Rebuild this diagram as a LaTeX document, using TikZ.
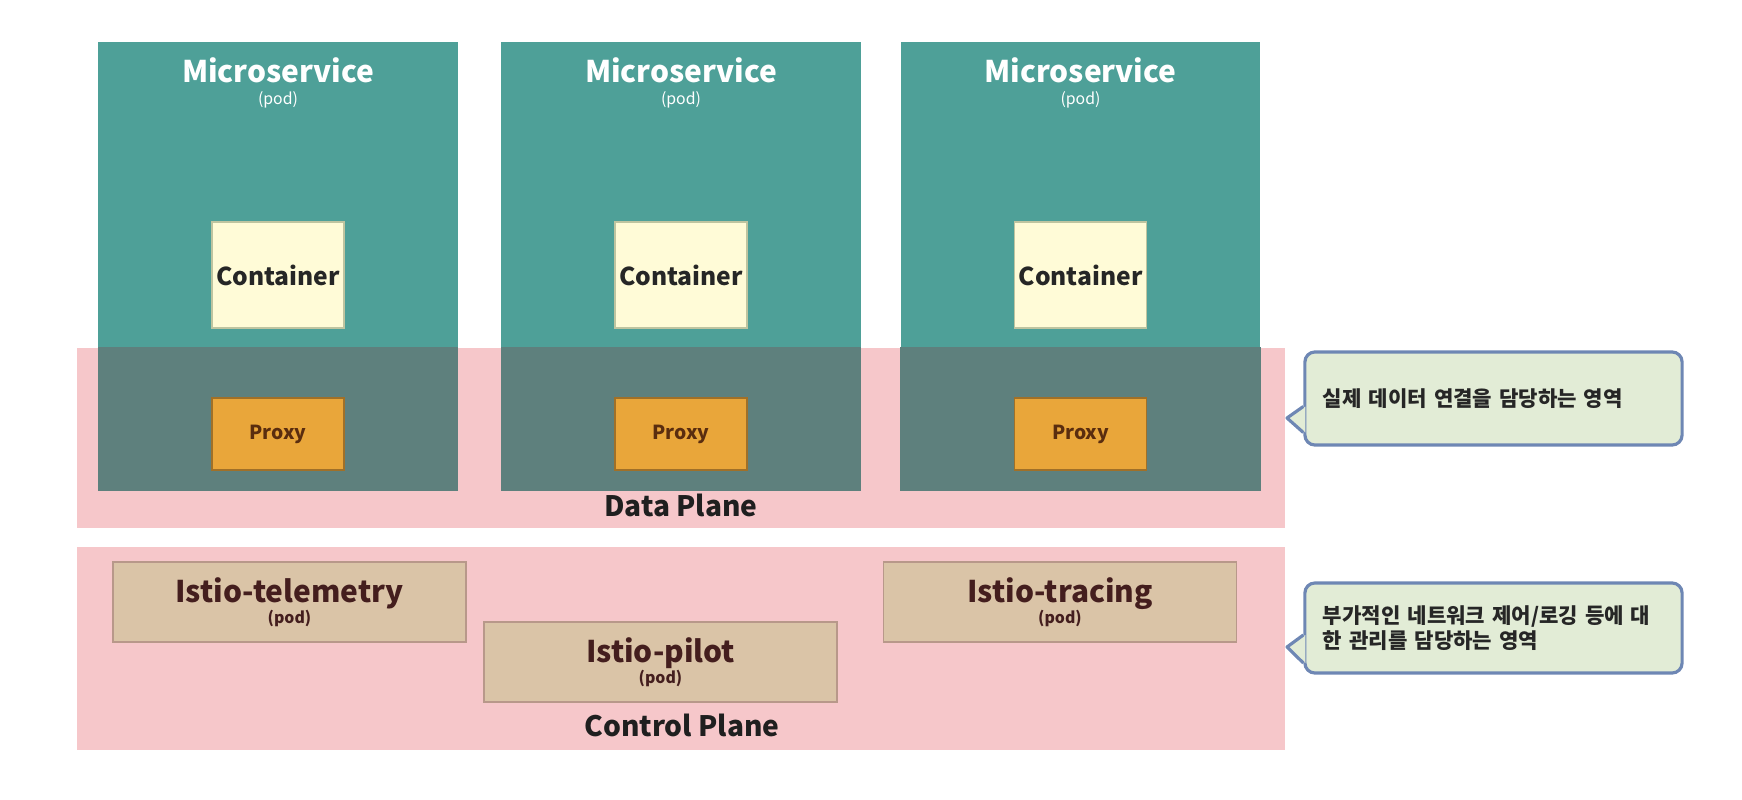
\documentclass[tikz,border=0pt]{standalone}
\usepackage{fontspec}
\setmainfont{Noto Sans CJK KR}
\usepackage{tikz}
\usetikzlibrary{calc}
\usetikzlibrary{positioning}

\definecolor{podteal}{RGB}{78,160,152}
\definecolor{podshade}{RGB}{94,128,125}
\definecolor{planepink}{RGB}{246,199,202}
\definecolor{contyellow}{RGB}{255,251,215}
\definecolor{contedge}{RGB}{190,196,160}
\definecolor{proxyorange}{RGB}{233,166,58}
\definecolor{proxyedge}{RGB}{160,112,40}
\definecolor{proxytext}{RGB}{90,45,15}
\definecolor{istiotan}{RGB}{218,196,167}
\definecolor{istioedge}{RGB}{184,152,138}
\definecolor{istiotext}{RGB}{68,30,30}
\definecolor{notefill}{RGB}{226,236,214}
\definecolor{noteedge}{RGB}{110,135,180}

\newcommand{\podfont}{\fontsize{4.5}{5}\selectfont}

\begin{document}
\begin{tikzpicture}[x=0.01cm, y=-0.01cm,
  plane/.style={fill=planepink, inner sep=0pt, minimum width=12.08cm},
  podbox/.style={fill=podteal, inner sep=0pt, minimum width=3.59cm, minimum height=4.48cm},
  podtitle/.style={text=white, font=\fontsize{8.5}{10}\selectfont\bfseries},
  podsub/.style={text=white, font=\podfont},
  cont/.style={draw=contedge, fill=contyellow, line width=0.5pt, minimum width=1.32cm, minimum height=1.06cm, inner sep=0pt, text=black!85, font=\fontsize{7}{8}\selectfont\bfseries},
  proxybox/.style={draw=proxyedge, fill=proxyorange, line width=0.5pt, minimum width=1.32cm, minimum height=0.72cm, inner sep=0pt, text=proxytext, font=\fontsize{5.5}{6}\selectfont\bfseries},
  planelabel/.style={text=black!88, font=\fontsize{8}{9}\selectfont\bfseries},
  istio/.style={draw=istioedge, fill=istiotan, line width=0.5pt, minimum width=3.53cm, minimum height=0.8cm, inner sep=0pt, align=center, text=istiotext, font=\fontsize{8.5}{9}\selectfont\bfseries},
  notebox/.style={draw=noteedge, fill=notefill, line width=0.9pt, rounded corners=0.1cm, minimum width=3.77cm, inner xsep=0.18cm, text width=3.41cm, align=left, text=black!85, font=\fontsize{6}{7.1}\selectfont\bfseries}
]
\useasboundingbox (0,0) rectangle (1742,800);

% planes
\node[plane, minimum height=1.8cm] (data) at (681,438) {};
\node[plane, minimum height=2.03cm] (control) at (681,648.5) {};

% microservices
\foreach \i/\x in {1/278, 2/681, 3/1080.5} {
  \node[podbox] (pod\i) at (\x,266) {};
  \fill[podshade] (pod\i.west |- data.north) rectangle (pod\i.south east);
  \node[podtitle] (title\i) at (\x,70) {Microservice};
  \node[podsub] (sub\i) at (\x,100) {(pod)};
  \node[cont] (cont\i) at (\x,275) {Container};
  \node[proxybox] (proxy\i) at (\x,434) {Proxy};
}
\node[planelabel] (datalabel) at (681,505) {Data Plane};

% control plane pods
\node[istio] (telemetry) at (289.5,602) {Istio-telemetry\\[-3pt]{\podfont(pod)}};
\node[istio] (pilot) at (660.5,662) {Istio-pilot\\[-3pt]{\podfont(pod)}};
\node[istio] (tracing) at (1060,602) {Istio-tracing\\[-3pt]{\podfont(pod)}};
\node[planelabel] (controllabel) at (682,725) {Control Plane};

% notes
\node[notebox, minimum height=0.93cm] (note1) at (1493.5,398.5) {실제 데이터 연결을 담당하는 영역};
\coordinate (tip1) at (1287,418);
\fill[notefill] ($(note1.west)+(2,8)$) -- (tip1) -- ($(note1.west)+(2,34)$) -- cycle;
\draw[noteedge, line width=0.9pt, line join=round] ($(note1.west)+(0,8)$) -- (tip1) -- ($(note1.west)+(0,34)$);

\node[notebox, minimum height=0.9cm] (note2) at (1493.5,628) {부가적인 네트워크 제어/로깅 등에 대\\한 관리를 담당하는 영역};
\coordinate (tip2) at (1287,647);
\fill[notefill] ($(note2.west)+(2,7)$) -- (tip2) -- ($(note2.west)+(2,35)$) -- cycle;
\draw[noteedge, line width=0.9pt, line join=round] ($(note2.west)+(0,7)$) -- (tip2) -- ($(note2.west)+(0,35)$);

\end{tikzpicture}
\end{document}
